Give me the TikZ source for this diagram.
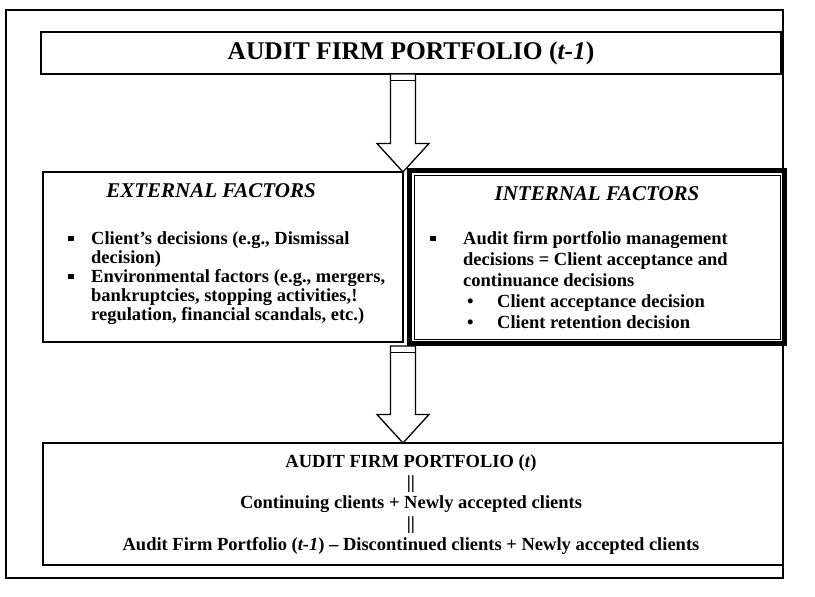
\documentclass[tikz,border=0pt]{standalone}
\usepackage{fontspec}
\setmainfont{Liberation Serif}
\usetikzlibrary{positioning,calc}

\tikzset{
  box/.style={draw=black, line width=1.3pt, fill=white, inner sep=0pt, outer sep=0pt},
  thickbox/.style={draw=black, line width=5pt, fill=white, inner sep=0pt},
  hollowarrow/.style={draw=black, line width=1.3pt, fill=white, line join=miter},
  bodyline/.style={font=\fontsize{18.5}{21}\selectfont\bfseries, anchor=base west, inner sep=0pt},
  heading/.style={font=\fontsize{21}{24}\selectfont\bfseries\itshape, anchor=base, inner sep=0pt},
  sqbullet/.style={fill=black, minimum size=5.5pt, inner sep=0pt},
}

% hollow block arrow from #1 down to #2
\newcommand{\blockarrow}[2]{%
  \draw[hollowarrow] let \p1=(#1), \p2=(#2) in
    (\x1-12.5pt,\y1) -- (\x1-12.5pt,\y2+28.5pt) -- (\x1-26pt,\y2+28.5pt) -- (\x2,\y2)
    -- (\x1+26pt,\y2+28.5pt) -- (\x1+12.5pt,\y2+28.5pt) -- (\x1+12.5pt,\y1) -- cycle;
  \draw[line width=0.8pt] let \p1=(#1) in (\x1-12.5pt,\y1-6pt) -- (\x1+12.5pt,\y1-6pt);
}

\begin{document}
\begin{tikzpicture}[x=1pt,y=1pt]
\useasboundingbox (0,0) rectangle (815,597);
% outer frame
\draw[line width=1.3pt] (6,19) rectangle (783,587);

% boxes
\node[box, minimum width=740pt, minimum height=42pt, font=\fontsize{25.5}{28}\selectfont\bfseries] (top) at (411,544) {AUDIT FIRM PORTFOLIO (\textit{t-1})};
\node[box, minimum width=360pt, minimum height=170pt] (ext) at (223,340) {};
\node[thickbox, minimum width=375pt, minimum height=173pt] (int) at (597,340) {};
\draw[line width=0.8pt] ([shift={(7pt,-7pt)}]int.north west) rectangle ([shift={(-7pt,7pt)}]int.south east);
\node[box, minimum width=740pt, minimum height=122pt] (bot) at (413,93) {};

% arrows
\blockarrow{top.south -| ext.east}{ext.north east}
\blockarrow{int.south -| ext.east}{bot.north -| ext.east}

% external factors
\node[heading] (exthead) at (211,399) {EXTERNAL FACTORS};
\node[sqbullet] (extb1) at (71,358.5) {};
\node[bodyline] (ext1) at (91,352) {Client’s decisions (e.g., Dismissal};
\node[bodyline] (ext2) at (91,333) {decision)};
\node[sqbullet] (extb2) at (71,320.5) {};
\node[bodyline] (ext3) at (91,314) {Environmental factors (e.g., mergers,};
\node[bodyline] (ext4) at (91,295) {bankruptcies, stopping activities,!};
\node[bodyline] (ext5) at (91,276) {regulation, financial scandals, etc.)};

% internal factors
\node[heading] (inthead) at (597,396.3) {INTERNAL FACTORS};
\node[sqbullet] (intb1) at (433,358.5) {};
\node[bodyline] (int1) at (463,352) {Audit firm portfolio management};
\node[bodyline] (int2) at (463,331) {decisions = Client acceptance and};
\node[bodyline] (int3) at (463,310) {continuance decisions};
\node[bodyline] (intb2) at (467,289) {•};
\node[bodyline] (int4) at (497,289) {Client acceptance decision};
\node[bodyline] (intb3) at (467,268) {•};
\node[bodyline] (int5) at (497,268) {Client retention decision};

% portfolio (t)
\node[bodyline, anchor=base] (bot1) at (411,129) {AUDIT FIRM PORTFOLIO (\textit{t})};
\node[bodyline, anchor=base] (bot2) at (411,108) {||};
\node[bodyline, anchor=base] (bot3) at (411,88) {Continuing clients + Newly accepted clients};
\node[bodyline, anchor=base] (bot4) at (411,67) {||};
\node[bodyline, anchor=base] (bot5) at (411,46) {Audit Firm Portfolio (\textit{t-1}) -- Discontinued clients + Newly accepted clients};
\end{tikzpicture}
\end{document}
